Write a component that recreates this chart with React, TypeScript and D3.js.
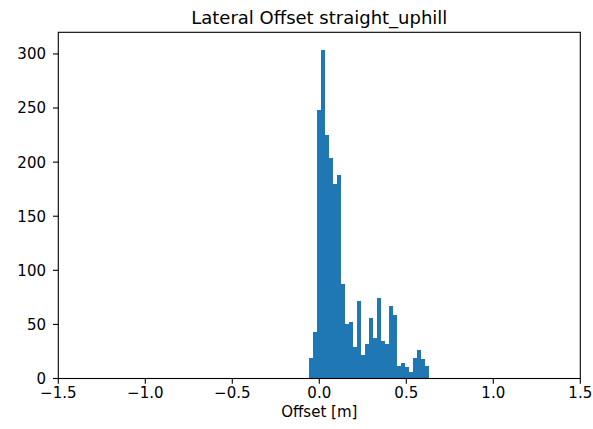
import React from "react";
import * as d3 from "d3";

const title = "Lateral Offset straight_uphill";
const xLabel = "Offset [m]";
const binStart = -0.0573;
const binEnd = 0.6322;
const counts = [19, 43, 248, 304, 225, 204, 180, 188, 87, 50, 52, 29, 72, 22, 32, 56, 37, 74, 35, 32, 67, 59, 12, 14, 11, 6, 19, 26, 18, 12];
const xTicks = [-1.5, -1.0, -0.5, 0.0, 0.5, 1.0, 1.5];
const yTicks = [0, 50, 100, 150, 200, 250, 300];
const xDomain = [-1.5, 1.5];
const yDomain = [0, 320];

const W = 593;
const H = 429;
const M = { left: 58.3, right: 580.3, top: 32.3, bottom: 378.5 };
const FONT = "DejaVu Sans, sans-serif";

function fmtX(v: number) {
  const s = v.toFixed(1);
  return s.replace("-", "\u2212");
}

export default function App() {
  const x = d3.scaleLinear().domain(xDomain).range([M.left, M.right]);
  const y = d3.scaleLinear().domain(yDomain).range([M.bottom, M.top]);
  const n = counts.length;
  const bw = (binEnd - binStart) / n;
  const bins = counts.map((c, i) => ({ x0: binStart + i * bw, x1: binStart + (i + 1) * bw, c }));
  return (
    <svg width={W} height={H} style={{ position: "absolute", left: 0, top: 0, background: "#fff" }}>
      <rect x={0} y={0} width={W} height={H} fill="#fff" />
      <g>
        {bins.map((b, i) => (
          <rect
            key={i}
            x={x(b.x0)}
            y={y(b.c)}
            width={x(b.x1) - x(b.x0)}
            height={y(0) - y(b.c)}
            fill="#1f77b4"
            shapeRendering="crispEdges"
          />
        ))}
      </g>
      <rect
        x={M.left}
        y={M.top}
        width={M.right - M.left}
        height={M.bottom - M.top}
        fill="none"
        stroke="#000"
        strokeWidth={1.1}
      />
      {xTicks.map((t) => (
        <g key={"x" + t}>
          <line x1={x(t)} x2={x(t)} y1={M.bottom} y2={M.bottom + 5.3} stroke="#000" strokeWidth={1.1} />
          <text x={x(t)} y={397.5} textAnchor="middle" fontFamily={FONT} fontSize={15} fill="#000">
            {fmtX(t)}
          </text>
        </g>
      ))}
      {yTicks.map((t) => (
        <g key={"y" + t}>
          <line x1={M.left - 5.3} x2={M.left} y1={y(t)} y2={y(t)} stroke="#000" strokeWidth={1.1} />
          <text x={46} y={y(t)} dy="0.36em" textAnchor="end" fontFamily={FONT} fontSize={15} fill="#000">
            {t}
          </text>
        </g>
      ))}
      <text x={(M.left + M.right) / 2} y={416.5} textAnchor="middle" fontFamily={FONT} fontSize={15} fill="#000">
        {xLabel}
      </text>
      <text x={(M.left + M.right) / 2} y={23.5} textAnchor="middle" fontFamily={FONT} fontSize={18} fill="#000">
        {title}
      </text>
    </svg>
  );
}
